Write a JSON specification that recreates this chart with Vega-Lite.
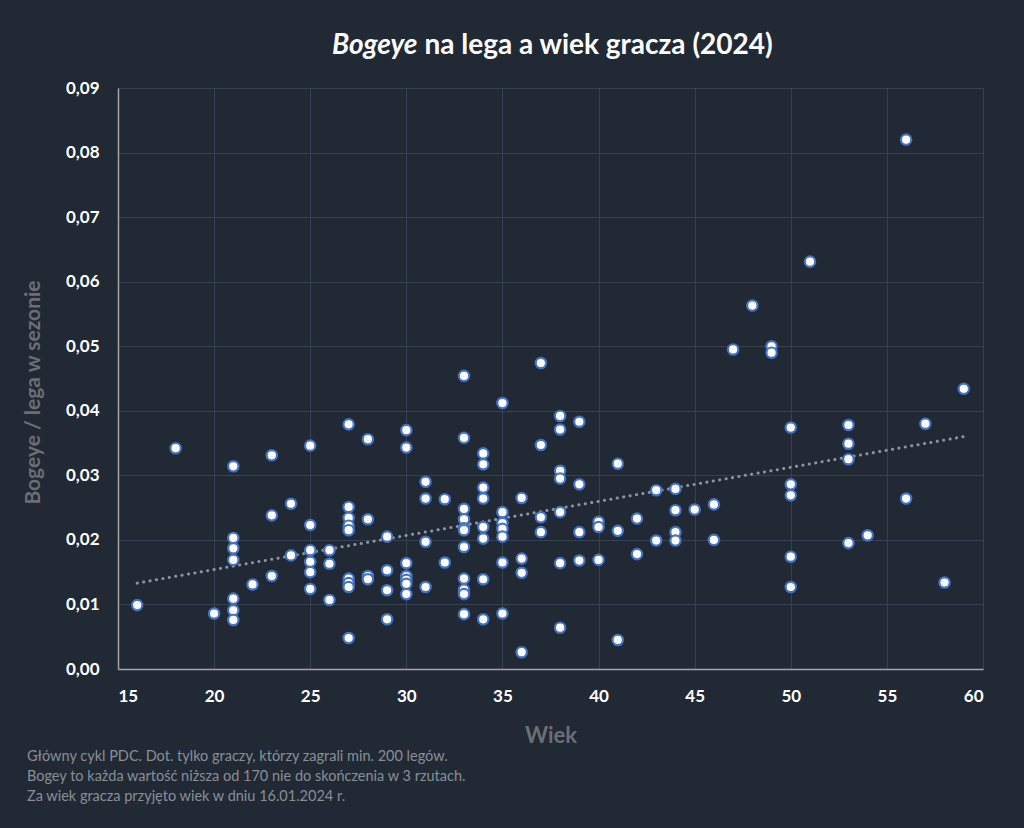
{
  "$schema": "https://vega.github.io/schema/vega-lite/v6.json",
  "width": 865,
  "height": 581,
  "autosize": {"type": "none"},
  "padding": {"left": 118, "top": 88, "right": 41, "bottom": 159},
  "background": "#212934",
  "config": {"view": {"stroke": null}, "font": "Lato"},
  "title": {
    "text": [
      "Główny cykl PDC. Dot. tylko graczy, którzy zagrali min. 200 legów.",
      "Bogey to każda wartość niższa od 170 nie do skończenia w 3 rzutach.",
      "Za wiek gracza przyjęto wiek w dniu 16.01.2024 r."
    ],
    "orient": "bottom",
    "anchor": "start",
    "frame": "bounds",
    "fontSize": 14.5,
    "fontWeight": "normal",
    "color": "#8a8f96",
    "lineHeight": 20,
    "offset": 4,
    "dx": 5
  },
  "datasets": {
    "players": [
      {"wiek": 16, "bogeye": 0.0099},
      {"wiek": 18, "bogeye": 0.0342},
      {"wiek": 20, "bogeye": 0.0086},
      {"wiek": 21, "bogeye": 0.0314},
      {"wiek": 21, "bogeye": 0.0203},
      {"wiek": 21, "bogeye": 0.0187},
      {"wiek": 21, "bogeye": 0.0169},
      {"wiek": 21, "bogeye": 0.0109},
      {"wiek": 21, "bogeye": 0.0091},
      {"wiek": 21, "bogeye": 0.0076},
      {"wiek": 22, "bogeye": 0.0131},
      {"wiek": 23, "bogeye": 0.0331},
      {"wiek": 23, "bogeye": 0.0238},
      {"wiek": 23, "bogeye": 0.0144},
      {"wiek": 24, "bogeye": 0.0256},
      {"wiek": 24, "bogeye": 0.0176},
      {"wiek": 25, "bogeye": 0.0346},
      {"wiek": 25, "bogeye": 0.0223},
      {"wiek": 25, "bogeye": 0.0184},
      {"wiek": 25, "bogeye": 0.0166},
      {"wiek": 25, "bogeye": 0.0150},
      {"wiek": 25, "bogeye": 0.0124},
      {"wiek": 26, "bogeye": 0.0184},
      {"wiek": 26, "bogeye": 0.0163},
      {"wiek": 26, "bogeye": 0.0107},
      {"wiek": 27, "bogeye": 0.0379},
      {"wiek": 27, "bogeye": 0.0251},
      {"wiek": 27, "bogeye": 0.0234},
      {"wiek": 27, "bogeye": 0.0222},
      {"wiek": 27, "bogeye": 0.0215},
      {"wiek": 27, "bogeye": 0.0140},
      {"wiek": 27, "bogeye": 0.0133},
      {"wiek": 27, "bogeye": 0.0127},
      {"wiek": 27, "bogeye": 0.0048},
      {"wiek": 28, "bogeye": 0.0356},
      {"wiek": 28, "bogeye": 0.0232},
      {"wiek": 28, "bogeye": 0.0144},
      {"wiek": 28, "bogeye": 0.0139},
      {"wiek": 29, "bogeye": 0.0205},
      {"wiek": 29, "bogeye": 0.0153},
      {"wiek": 29, "bogeye": 0.0122},
      {"wiek": 29, "bogeye": 0.0077},
      {"wiek": 30, "bogeye": 0.0370},
      {"wiek": 30, "bogeye": 0.0343},
      {"wiek": 30, "bogeye": 0.0164},
      {"wiek": 30, "bogeye": 0.0144},
      {"wiek": 30, "bogeye": 0.0138},
      {"wiek": 30, "bogeye": 0.0132},
      {"wiek": 30, "bogeye": 0.0116},
      {"wiek": 31, "bogeye": 0.0290},
      {"wiek": 31, "bogeye": 0.0264},
      {"wiek": 31, "bogeye": 0.0197},
      {"wiek": 31, "bogeye": 0.0127},
      {"wiek": 32, "bogeye": 0.0263},
      {"wiek": 32, "bogeye": 0.0165},
      {"wiek": 33, "bogeye": 0.0454},
      {"wiek": 33, "bogeye": 0.0358},
      {"wiek": 33, "bogeye": 0.0248},
      {"wiek": 33, "bogeye": 0.0232},
      {"wiek": 33, "bogeye": 0.0218},
      {"wiek": 33, "bogeye": 0.0215},
      {"wiek": 33, "bogeye": 0.0189},
      {"wiek": 33, "bogeye": 0.0140},
      {"wiek": 33, "bogeye": 0.0123},
      {"wiek": 33, "bogeye": 0.0116},
      {"wiek": 33, "bogeye": 0.0085},
      {"wiek": 34, "bogeye": 0.0334},
      {"wiek": 34, "bogeye": 0.0317},
      {"wiek": 34, "bogeye": 0.0281},
      {"wiek": 34, "bogeye": 0.0264},
      {"wiek": 34, "bogeye": 0.0220},
      {"wiek": 34, "bogeye": 0.0202},
      {"wiek": 34, "bogeye": 0.0139},
      {"wiek": 34, "bogeye": 0.0077},
      {"wiek": 35, "bogeye": 0.0412},
      {"wiek": 35, "bogeye": 0.0243},
      {"wiek": 35, "bogeye": 0.0226},
      {"wiek": 35, "bogeye": 0.0217},
      {"wiek": 35, "bogeye": 0.0205},
      {"wiek": 35, "bogeye": 0.0165},
      {"wiek": 35, "bogeye": 0.0086},
      {"wiek": 36, "bogeye": 0.0265},
      {"wiek": 36, "bogeye": 0.0171},
      {"wiek": 36, "bogeye": 0.0149},
      {"wiek": 36, "bogeye": 0.0026},
      {"wiek": 37, "bogeye": 0.0474},
      {"wiek": 37, "bogeye": 0.0347},
      {"wiek": 37, "bogeye": 0.0235},
      {"wiek": 37, "bogeye": 0.0212},
      {"wiek": 38, "bogeye": 0.0392},
      {"wiek": 38, "bogeye": 0.0371},
      {"wiek": 38, "bogeye": 0.0307},
      {"wiek": 38, "bogeye": 0.0295},
      {"wiek": 38, "bogeye": 0.0243},
      {"wiek": 38, "bogeye": 0.0164},
      {"wiek": 38, "bogeye": 0.0064},
      {"wiek": 39, "bogeye": 0.0383},
      {"wiek": 39, "bogeye": 0.0286},
      {"wiek": 39, "bogeye": 0.0212},
      {"wiek": 39, "bogeye": 0.0168},
      {"wiek": 40, "bogeye": 0.0228},
      {"wiek": 40, "bogeye": 0.0220},
      {"wiek": 40, "bogeye": 0.0169},
      {"wiek": 41, "bogeye": 0.0318},
      {"wiek": 41, "bogeye": 0.0214},
      {"wiek": 41, "bogeye": 0.0045},
      {"wiek": 42, "bogeye": 0.0233},
      {"wiek": 42, "bogeye": 0.0178},
      {"wiek": 43, "bogeye": 0.0277},
      {"wiek": 43, "bogeye": 0.0199},
      {"wiek": 44, "bogeye": 0.0279},
      {"wiek": 44, "bogeye": 0.0246},
      {"wiek": 44, "bogeye": 0.0212},
      {"wiek": 44, "bogeye": 0.0199},
      {"wiek": 45, "bogeye": 0.0247},
      {"wiek": 46, "bogeye": 0.0255},
      {"wiek": 46, "bogeye": 0.0200},
      {"wiek": 47, "bogeye": 0.0495},
      {"wiek": 48, "bogeye": 0.0563},
      {"wiek": 49, "bogeye": 0.0500},
      {"wiek": 49, "bogeye": 0.0490},
      {"wiek": 50, "bogeye": 0.0374},
      {"wiek": 50, "bogeye": 0.0286},
      {"wiek": 50, "bogeye": 0.0269},
      {"wiek": 50, "bogeye": 0.0174},
      {"wiek": 50, "bogeye": 0.0127},
      {"wiek": 51, "bogeye": 0.0631},
      {"wiek": 53, "bogeye": 0.0378},
      {"wiek": 53, "bogeye": 0.0349},
      {"wiek": 53, "bogeye": 0.0325},
      {"wiek": 53, "bogeye": 0.0195},
      {"wiek": 54, "bogeye": 0.0207},
      {"wiek": 56, "bogeye": 0.0820},
      {"wiek": 56, "bogeye": 0.0264},
      {"wiek": 57, "bogeye": 0.0380},
      {"wiek": 58, "bogeye": 0.0134},
      {"wiek": 59, "bogeye": 0.0434}
    ],
    "trend": [
      {"wiek": 16, "bogeye": 0.0133},
      {"wiek": 59, "bogeye": 0.0360}
    ]
  },
  "resolve": {"axis": {"x": "independent", "y": "independent"}},
  "layer": [
    {
      "data": {"name": "trend"},
      "mark": {
        "type": "line",
        "stroke": "#8c96a3",
        "strokeWidth": 3,
        "strokeDash": [0.1, 6.4],
        "strokeCap": "round"
      },
      "encoding": {
        "x": {
          "field": "wiek",
          "type": "quantitative",
          "scale": {"domain": [15, 60], "nice": false, "zero": false},
          "axis": {
            "orient": "top",
            "labels": false,
            "ticks": false,
            "domain": false,
            "grid": false,
            "title": "na lega a wiek gracza (2024)",
            "titleColor": "#ffffff",
            "titleFont": "Lato",
            "titleFontSize": 28,
            "titleFontWeight": "bold",
            "titleAlign": "left",
            "titleBaseline": "alphabetic",
            "titleX": 306,
            "titleY": -35
          }
        },
        "y": {
          "field": "bogeye",
          "type": "quantitative",
          "scale": {"domain": [0, 0.09], "nice": false},
          "axis": {
            "orient": "right",
            "labels": false,
            "ticks": false,
            "domain": false,
            "grid": false,
            "title": "Bogeye",
            "titleAngle": 0,
            "titleColor": "#ffffff",
            "titleFont": "Lato",
            "titleFontSize": 28,
            "titleFontWeight": "bold",
            "titleFontStyle": "italic",
            "titleAlign": "right",
            "titleBaseline": "alphabetic",
            "titleX": -566,
            "titleY": -35
          }
        }
      }
    },
    {
      "data": {"name": "players"},
      "mark": {
        "type": "circle",
        "fill": "#ffffff",
        "stroke": "#4472c4",
        "strokeWidth": 2.2,
        "size": 108,
        "opacity": 1
      },
      "encoding": {
        "x": {
          "field": "wiek",
          "type": "quantitative",
          "scale": {"domain": [15, 60], "nice": false, "zero": false},
          "axis": {
            "orient": "bottom",
            "values": [15, 20, 25, 30, 35, 40, 45, 50, 55, 60],
            "format": "d",
            "grid": true,
            "gridColor": "#364152",
            "gridWidth": 1,
            "domain": true,
            "domainColor": "#a6a6a6",
            "domainWidth": 1.5,
            "ticks": false,
            "labelColor": "#ffffff",
            "labelFont": "Lato",
            "labelFontSize": 17,
            "labelFontWeight": "bold",
            "labelPadding": 19,
            "title": "Wiek",
            "titleColor": "#6b6f75",
            "titleFont": "Lato",
            "titleFontSize": 22,
            "titleFontWeight": "bold",
            "titleBaseline": "alphabetic",
            "titleY": 73
          }
        },
        "y": {
          "field": "bogeye",
          "type": "quantitative",
          "scale": {"domain": [0, 0.09], "nice": false},
          "axis": {
            "orient": "left",
            "values": [0, 0.01, 0.02, 0.03, 0.04, 0.05, 0.06, 0.07, 0.08, 0.09],
            "labelExpr": "replace(format(datum.value, '.2f'), '.', ',')",
            "grid": true,
            "gridColor": "#364152",
            "gridWidth": 1,
            "domain": true,
            "domainColor": "#a6a6a6",
            "domainWidth": 1.5,
            "ticks": false,
            "labelColor": "#ffffff",
            "labelFont": "Lato",
            "labelFontSize": 17,
            "labelFontWeight": "bold",
            "labelPadding": 19,
            "title": "Bogeye / lega w sezonie",
            "titleColor": "#6b6f75",
            "titleFont": "Lato",
            "titleFontSize": 21,
            "titleFontWeight": "bold",
            "titleAngle": -90,
            "titleAlign": "center",
            "titleBaseline": "alphabetic",
            "titleX": -79,
            "titleY": 304
          }
        }
      }
    }
  ]
}
